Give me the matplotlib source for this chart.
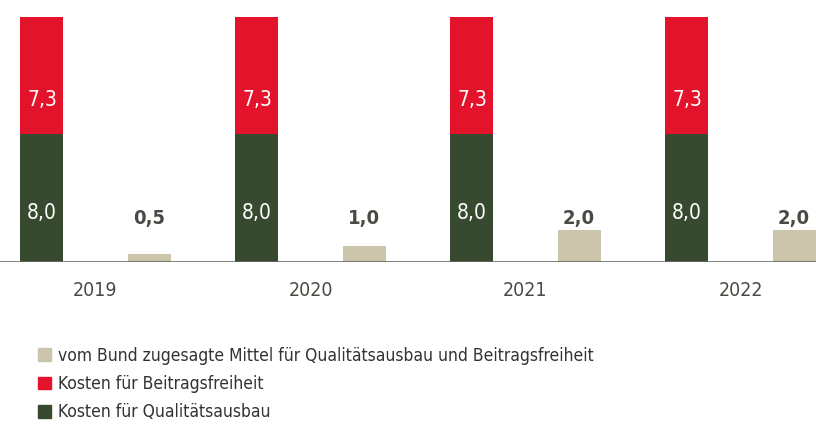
import numpy as np
import matplotlib.pyplot as plt
from matplotlib.patches import Patch

plt.rcParams['font.family'] = ['DejaVu Sans']
plt.rcParams['font.stretch'] = 'condensed'

years = ['2019', '2020', '2021', '2022']
qualitaet = [8.0, 8.0, 8.0, 8.0]
beitrag = [7.3, 7.3, 7.3, 7.3]
bund = [0.5, 1.0, 2.0, 2.0]
bund_labels = ['0,5', '1,0', '2,0', '2,0']

c_green = '#374a2f'
c_red = '#e3132c'
c_gray = '#cbc5ac'
c_text = '#4a4a44'

fig = plt.figure(figsize=(8.16, 4.30), dpi=100)
ax = fig.add_axes([0, 1 - 262 / 430, 1, 262 / 430])

x = np.arange(len(years))
off = 0.249
w = 0.2

ax.bar(x - off, qualitaet, w, color=c_green)
ax.bar(x - off, beitrag, w, bottom=qualitaet, color=c_red)
ax.bar(x + off, bund, w, color=c_gray)

for i in range(len(years)):
    ax.text(x[i] - off, 3.05, f'{qualitaet[i]:.1f}'.replace('.', ','), ha='center', va='center',
            color='white', fontsize=15)
    ax.text(x[i] - off, qualitaet[i] + 2.1, f'{beitrag[i]:.1f}'.replace('.', ','), ha='center',
            va='center', color='white', fontsize=15)
    ax.text(x[i] + off, 2.7, bund_labels[i], ha='center', va='center', color=c_text,
            fontsize=14.5, fontweight='bold')
    ax.text(x[i], -1.8, years[i], ha='center', va='center', color=c_text, fontsize=14)

ax.axhline(0, color='#6a6a66', lw=1.2)
ax.set_xlim(-95.5 / 215, (816 - 95.5) / 215)
ax.set_ylim(0, 262 / 16)
ax.axis('off')

handles = [Patch(color=c_gray, label='vom Bund zugesagte Mittel für Qualitätsausbau und Beitragsfreiheit'),
           Patch(color=c_red, label='Kosten für Beitragsfreiheit'),
           Patch(color=c_green, label='Kosten für Qualitätsausbau')]
fig.legend(handles=handles, loc='upper left', bbox_to_anchor=(0.038, 0.21), frameon=False,
           fontsize=12.5, handlelength=0.75, handleheight=0.75, handletextpad=0.4,
           labelspacing=0.6, labelcolor='#333333', borderaxespad=0)

fig.savefig('out.png', dpi=100)
